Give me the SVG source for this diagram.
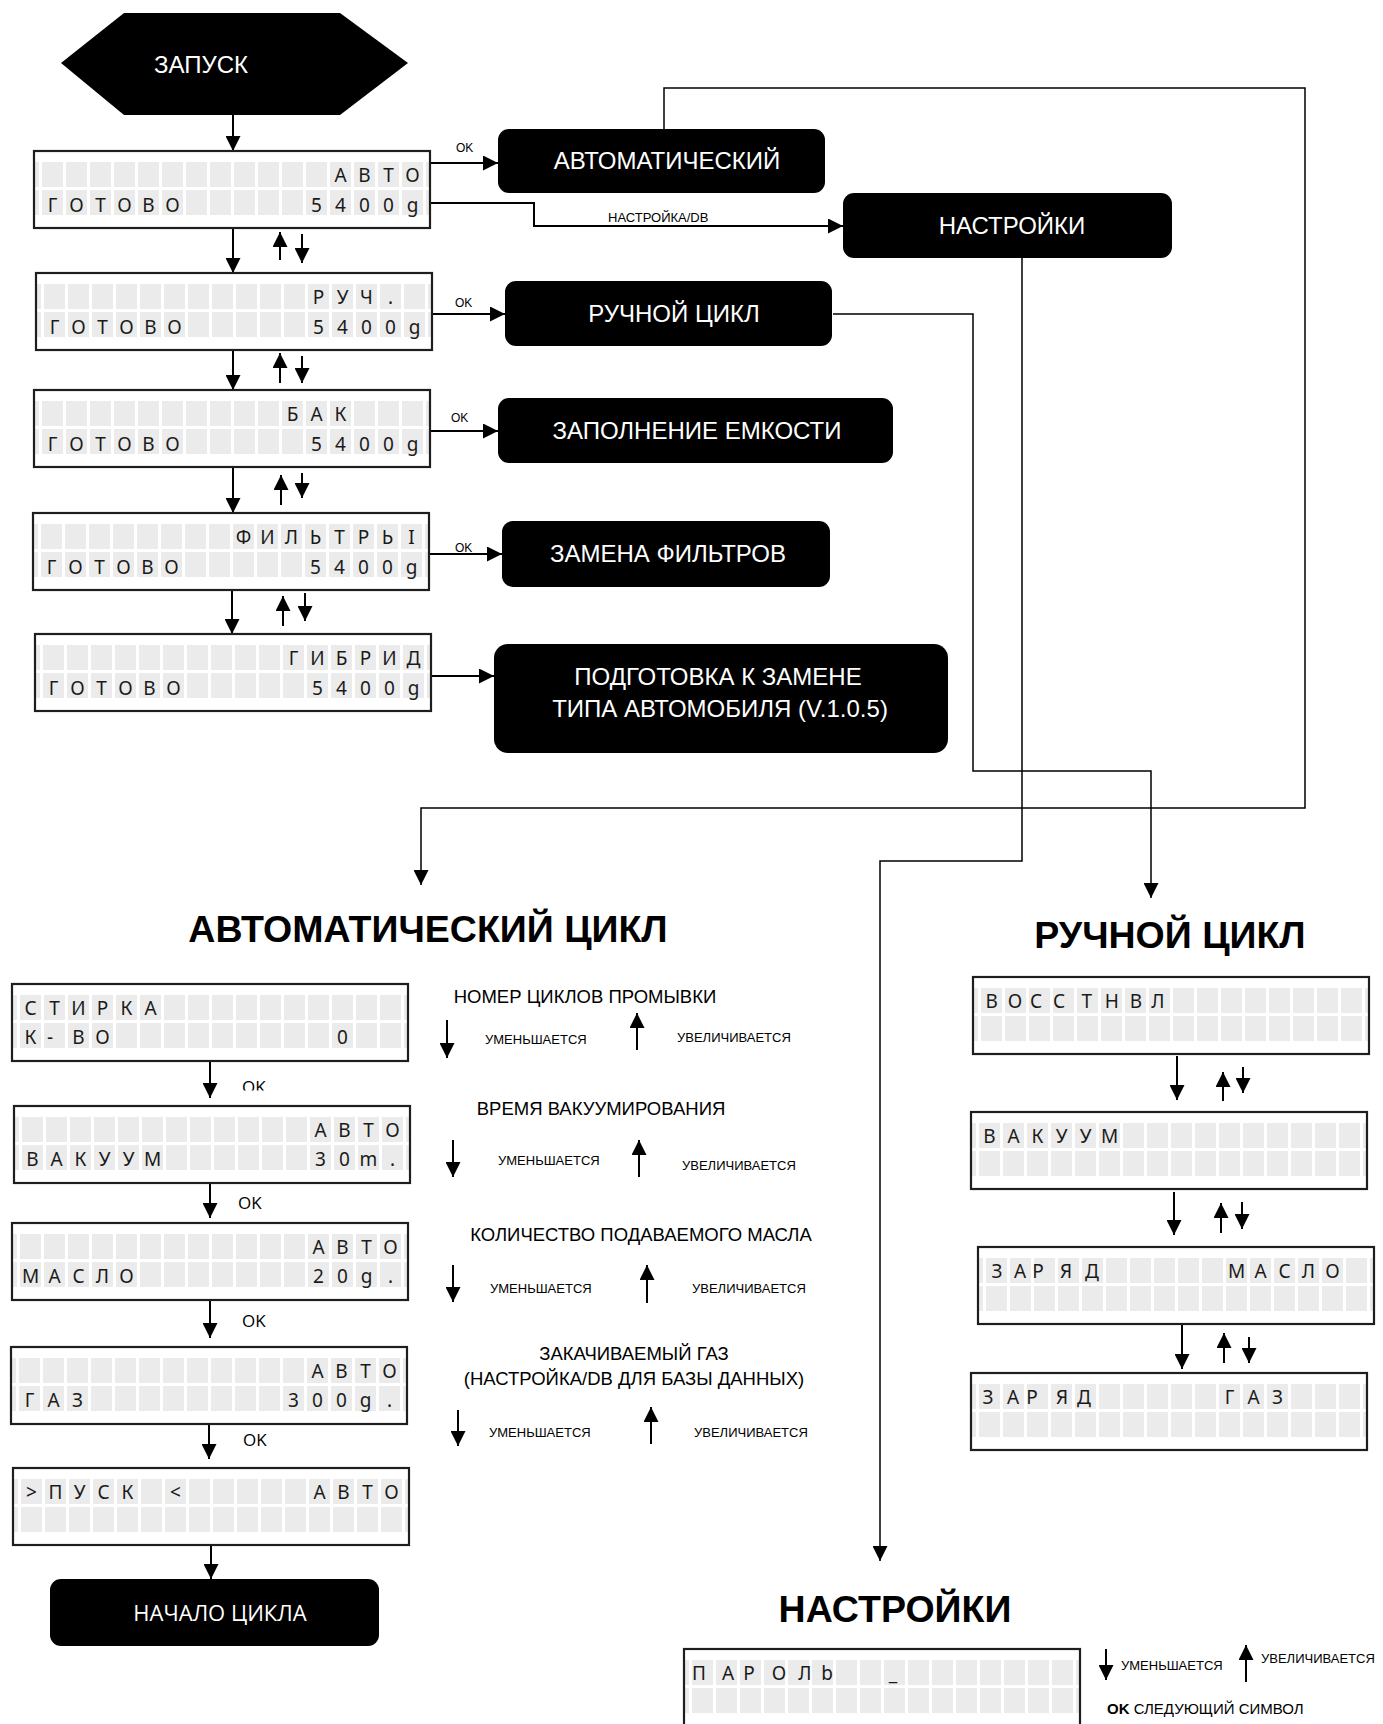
<svg xmlns="http://www.w3.org/2000/svg" xmlns:xlink="http://www.w3.org/1999/xlink" width="1383" height="1724" viewBox="0 0 1383 1724">
<style>
.box{fill:#000}
.bt{font-family:"Liberation Sans",Arial,sans-serif;font-size:24px;fill:#fff;text-anchor:middle}
.lt{font-family:"Noto Sans","Open Sans",sans-serif;font-size:19px;fill:#1a1a1a;text-anchor:middle}
.c{fill:none;stroke:#000;stroke-width:2}
.t{fill:none;stroke:#000;stroke-width:1.5}
.sm{font-family:"Liberation Sans",Arial,sans-serif;font-size:12px;fill:#000}
.h{font-family:"Liberation Sans",Arial,sans-serif;font-size:18.5px;fill:#000;text-anchor:middle}
.s{font-family:"Liberation Sans",Arial,sans-serif;font-size:13px;fill:#000}
.ti{font-family:"Liberation Sans",Arial,sans-serif;font-size:37.5px;font-weight:bold;fill:#000;text-anchor:middle}
.ok{font-family:"Open Sans","Noto Sans",sans-serif;font-size:17px;fill:#000}
</style>
<defs>
<pattern id="cells" patternUnits="userSpaceOnUse" x="8" y="11" width="24" height="28">
<rect x="0" y="0" width="21" height="25" fill="#ebebeb"/>
</pattern>
<g id="lcdbg">
<rect x="0" y="0" width="396" height="77" fill="#fff"/>
<rect x="1" y="11" width="394" height="53" fill="url(#cells)"/>
<rect x="0" y="0" width="396" height="77" fill="none" stroke="#1e1e1e" stroke-width="2.2"/>
</g>
<marker id="ah" viewBox="0 0 15 15" markerWidth="15" markerHeight="15" refX="15" refY="7.5" orient="auto" markerUnits="userSpaceOnUse">
<path d="M0,0L15,7.5L0,15z" fill="#000"/>
</marker>
<clipPath id="okclip"><rect x="230" y="1070" width="60" height="20.5"/></clipPath>
</defs>
<rect x="0" y="0" width="1383" height="1724" fill="#fff"/>

<!-- connectors -->
<g id="connectors">
<path class="c" d="M233,115V151" marker-end="url(#ah)"/>
<path class="c" d="M233,226V273" marker-end="url(#ah)"/>
<path class="c" d="M233,349V390" marker-end="url(#ah)"/>
<path class="c" d="M233,466V513" marker-end="url(#ah)"/>
<path class="c" d="M232,589V634" marker-end="url(#ah)"/>
<path class="c" d="M280,260V232" marker-end="url(#ah)"/>
<path class="c" d="M302,234V263" marker-end="url(#ah)"/>
<path class="c" d="M280,383V353" marker-end="url(#ah)"/>
<path class="c" d="M302,356V383" marker-end="url(#ah)"/>
<path class="c" d="M281,505V475" marker-end="url(#ah)"/>
<path class="c" d="M302,473V498" marker-end="url(#ah)"/>
<path class="c" d="M283,626V596" marker-end="url(#ah)"/>
<path class="c" d="M305,593V621" marker-end="url(#ah)"/>
<path class="c" d="M430,163H498" marker-end="url(#ah)"/>
<path class="c" d="M430,203H534V226H843" marker-end="url(#ah)"/>
<path class="c" d="M432,314H505" marker-end="url(#ah)"/>
<path class="c" d="M430,431H498" marker-end="url(#ah)"/>
<path class="c" d="M429,554H502" marker-end="url(#ah)"/>
<path class="c" d="M431,676H494" marker-end="url(#ah)"/>
<path class="t" d="M664,129V88H1305V808H421V885" marker-end="url(#ah)"/>
<path class="t" d="M1022,258V861H880V1561" marker-end="url(#ah)"/>
<path class="t" d="M833,314H973V771H1151V898" marker-end="url(#ah)"/>
<path class="c" d="M210,1053V1098" marker-end="url(#ah)"/>
<path class="c" d="M210,1183V1218" marker-end="url(#ah)"/>
<path class="c" d="M210,1300V1338" marker-end="url(#ah)"/>
<path class="c" d="M209,1423V1459" marker-end="url(#ah)"/>
<path class="c" d="M211,1536V1579" marker-end="url(#ah)"/>
<path class="c" d="M1177,1056V1100" marker-end="url(#ah)"/>
<path class="c" d="M1223,1101V1072" marker-end="url(#ah)"/>
<path class="c" d="M1243,1067V1093" marker-end="url(#ah)"/>
<path class="c" d="M1174,1192V1235" marker-end="url(#ah)"/>
<path class="c" d="M1221,1233V1203" marker-end="url(#ah)"/>
<path class="c" d="M1242,1202V1229" marker-end="url(#ah)"/>
<path class="c" d="M1182,1325V1369" marker-end="url(#ah)"/>
<path class="c" d="M1224,1363V1333" marker-end="url(#ah)"/>
<path class="c" d="M1249,1337V1363" marker-end="url(#ah)"/>
<path class="c" d="M447,1020V1058" marker-end="url(#ah)"/>
<path class="c" d="M637,1050V1013" marker-end="url(#ah)"/>
<path class="c" d="M453,1140V1177" marker-end="url(#ah)"/>
<path class="c" d="M639,1177V1140" marker-end="url(#ah)"/>
<path class="c" d="M453,1265V1302" marker-end="url(#ah)"/>
<path class="c" d="M647,1303V1265" marker-end="url(#ah)"/>
<path class="c" d="M458,1410V1446" marker-end="url(#ah)"/>
<path class="c" d="M651,1444V1407" marker-end="url(#ah)"/>
<path class="c" d="M1106,1649V1680" marker-end="url(#ah)"/>
<path class="c" d="M1246,1682V1645" marker-end="url(#ah)"/>
</g>

<!-- labels -->
<g id="labels">
<text class="sm" x="456" y="152">OK</text>
<text class="sm" x="455" y="307">OK</text>
<text class="sm" x="451" y="422">OK</text>
<text class="sm" x="455" y="552">OK</text>
<text class="sm" x="608" y="222" style="font-size:13px">НАСТРОЙКА/DB</text>
<text class="ok" x="242" y="1093" clip-path="url(#okclip)">OK</text>
<text class="ok" x="238" y="1209">OK</text>
<text class="ok" x="242" y="1327">OK</text>
<text class="ok" x="243" y="1446">OK</text>
<text class="ti" x="428" y="942">АВТОМАТИЧЕСКИЙ ЦИКЛ</text>
<text class="ti" x="1170" y="948">РУЧНОЙ ЦИКЛ</text>
<text class="ti" x="895" y="1622">НАСТРОЙКИ</text>
<text class="h" x="585" y="1003">НОМЕР ЦИКЛОВ ПРОМЫВКИ</text>
<text class="s" x="485" y="1044">УМЕНЬШАЕТСЯ</text>
<text class="s" x="677" y="1042">УВЕЛИЧИВАЕТСЯ</text>
<text class="h" x="601" y="1115">ВРЕМЯ ВАКУУМИРОВАНИЯ</text>
<text class="s" x="498" y="1165">УМЕНЬШАЕТСЯ</text>
<text class="s" x="682" y="1170">УВЕЛИЧИВАЕТСЯ</text>
<text class="h" x="641" y="1241">КОЛИЧЕСТВО ПОДАВАЕМОГО МАСЛА</text>
<text class="s" x="490" y="1293">УМЕНЬШАЕТСЯ</text>
<text class="s" x="692" y="1293">УВЕЛИЧИВАЕТСЯ</text>
<text class="h" x="634" y="1360">ЗАКАЧИВАЕМЫЙ ГАЗ</text>
<text class="h" x="634" y="1385">(НАСТРОЙКА/DB ДЛЯ БАЗЫ ДАННЫХ)</text>
<text class="s" x="489" y="1437">УМЕНЬШАЕТСЯ</text>
<text class="s" x="694" y="1437">УВЕЛИЧИВАЕТСЯ</text>
<text class="s" x="1121" y="1670">УМЕНЬШАЕТСЯ</text>
<text class="s" x="1261" y="1663">УВЕЛИЧИВАЕТСЯ</text>
<text class="s" x="1107" y="1714" style="font-size:15px"><tspan font-weight="bold">OK</tspan> СЛЕДУЮЩИЙ СИМВОЛ</text>
</g>

<!-- action nodes -->
<g id="start"><path class="box" d="M61,63L124,13H340L408,63L340,115H124Z"/><text class="bt" x="201" y="73">ЗАПУСК</text></g>
<g id="n-avto"><rect class="box" x="498" y="129" width="327" height="64" rx="11"/><text class="bt" x="667" y="169">АВТОМАТИЧЕСКИЙ</text></g>
<g id="n-nastr"><rect class="box" x="843" y="193" width="329" height="65" rx="11"/><text class="bt" x="1012" y="234">НАСТРОЙКИ</text></g>
<g id="n-ruch"><rect class="box" x="505" y="281" width="327" height="65" rx="11"/><text class="bt" x="674" y="322">РУЧНОЙ ЦИКЛ</text></g>
<g id="n-zapoln"><rect class="box" x="498" y="398" width="395" height="65" rx="11"/><text class="bt" x="697" y="439">ЗАПОЛНЕНИЕ ЕМКОСТИ</text></g>
<g id="n-zamena"><rect class="box" x="502" y="521" width="328" height="66" rx="11"/><text class="bt" x="668" y="562">ЗАМЕНА ФИЛЬТРОВ</text></g>
<g id="n-podg"><rect class="box" x="494" y="644" width="454" height="109" rx="14"/><text class="bt" x="718" y="685">ПОДГОТОВКА К ЗАМЕНЕ</text><text class="bt" x="720" y="717">ТИПА АВТОМОБИЛЯ (V.1.0.5)</text></g>
<g id="n-nachalo"><rect class="box" x="50" y="1579" width="329" height="67" rx="11"/><text class="bt" x="220" y="1621" style="font-family:'Open Sans','Noto Sans',sans-serif;font-size:22px">НАЧАЛО ЦИКЛА</text></g>

<!-- LCD nodes -->
<g id="lcd-avto" transform="translate(34,151)"><use xlink:href="#lcdbg"/>
<text class="lt" x="306.5 330.5 354.5 378.5" y="31">АВТО</text>
<text class="lt" x="18.5 42.5 66.5 90.5 114.5 138.5" y="60.5">ГОТОВО</text>
<text class="lt" x="282.5 306.5 330.5 354.5 378.5" y="60.5">5400g</text></g>
<g id="lcd-ruch" transform="translate(36,273)"><use xlink:href="#lcdbg"/>
<text class="lt" x="282.5 306.5 330.5 354.5" y="31">РУЧ.</text>
<text class="lt" x="18.5 42.5 66.5 90.5 114.5 138.5" y="60.5">ГОТОВО</text>
<text class="lt" x="282.5 306.5 330.5 354.5 378.5" y="60.5">5400g</text></g>
<g id="lcd-bak" transform="translate(34,390)"><use xlink:href="#lcdbg"/>
<text class="lt" x="258.5 282.5 306.5" y="31">БАК</text>
<text class="lt" x="18.5 42.5 66.5 90.5 114.5 138.5" y="60.5">ГОТОВО</text>
<text class="lt" x="282.5 306.5 330.5 354.5 378.5" y="60.5">5400g</text></g>
<g id="lcd-filtry" transform="translate(33,513)"><use xlink:href="#lcdbg"/>
<text class="lt" x="210.5 234.5 258.5 282.5 306.5 330.5 354.5 378.5" y="31">ФИЛЬТРЬI</text>
<text class="lt" x="18.5 42.5 66.5 90.5 114.5 138.5" y="60.5">ГОТОВО</text>
<text class="lt" x="282.5 306.5 330.5 354.5 378.5" y="60.5">5400g</text></g>
<g id="lcd-gibrid" transform="translate(35,634)"><use xlink:href="#lcdbg"/>
<text class="lt" x="258.5 282.5 306.5 330.5 354.5 378.5" y="31">ГИБРИД</text>
<text class="lt" x="18.5 42.5 66.5 90.5 114.5 138.5" y="60.5">ГОТОВО</text>
<text class="lt" x="282.5 306.5 330.5 354.5 378.5" y="60.5">5400g</text></g>

<g id="lcd-stirka" transform="translate(12,984)"><use xlink:href="#lcdbg"/>
<text class="lt" x="18.5 42.5 66.5 90.5 114.5 138.5" y="31">СТИРКА</text>
<text class="lt" x="18.5 38 66.5 90.5" y="60">К-ВО</text>
<text class="lt" x="330.5" y="60">0</text></g>
<g id="lcd-vakuum" transform="translate(14,1106)"><use xlink:href="#lcdbg"/>
<text class="lt" x="306.5 330.5 354.5 378.5" y="31">АВТО</text>
<text class="lt" x="18.5 42.5 66.5 90.5 114.5 138.5" y="60">ВАКУУМ</text>
<text class="lt" x="306.5 330.5 354.5 378.5" y="60">30m.</text></g>
<g id="lcd-maslo" transform="translate(12,1223)"><use xlink:href="#lcdbg"/>
<text class="lt" x="306.5 330.5 354.5 378.5" y="31">АВТО</text>
<text class="lt" x="18.5 42.5 66.5 90.5 114.5" y="60">МАСЛО</text>
<text class="lt" x="306.5 330.5 354.5 378.5" y="60">20g.</text></g>
<g id="lcd-gaz" transform="translate(11,1347)"><use xlink:href="#lcdbg"/>
<text class="lt" x="306.5 330.5 354.5 378.5" y="31">АВТО</text>
<text class="lt" x="18.5 42.5 66.5" y="60">ГАЗ</text>
<text class="lt" x="282.5 306.5 330.5 354.5 378.5" y="60">300g.</text></g>
<g id="lcd-pusk" transform="translate(13,1468)"><use xlink:href="#lcdbg"/>
<text class="lt" x="18.5 42.5 66.5 90.5 114.5" y="31">&gt;ПУСК</text>
<text class="lt" x="162.5" y="31">&lt;</text>
<text class="lt" x="306.5 330.5 354.5 378.5" y="31">АВТО</text></g>

<g id="lcd-vosst" transform="translate(973,977)"><use xlink:href="#lcdbg"/>
<text class="lt" x="18.7 42 63 86 113.7 138.7 163 185" y="31">ВОССТНВЛ</text></g>
<g id="lcd-vakuum2" transform="translate(971,1112)"><use xlink:href="#lcdbg"/>
<text class="lt" x="18.5 42.5 66.5 90.5 114.5 138.5" y="31">ВАКУУМ</text></g>
<g id="lcd-zaryad-maslo" transform="translate(978,1247)"><use xlink:href="#lcdbg"/>
<text class="lt" x="19 42 60 88 114" y="31">ЗАРЯД</text>
<text class="lt" x="258.5 282.5 306.5 330.5 354.5" y="31">МАСЛО</text></g>
<g id="lcd-zaryad-gaz" transform="translate(971,1373)"><use xlink:href="#lcdbg"/>
<text class="lt" x="17 42 61 91 113" y="31">ЗАРЯД</text>
<text class="lt" x="258.5 282.5 306.5" y="31">ГАЗ</text></g>
<g id="lcd-parol" transform="translate(684,1649)"><use xlink:href="#lcdbg"/>
<text class="lt" x="15 44 65 95 121 143" y="31">ПАРОЛb</text>
<text class="lt" x="209" y="31">_</text></g>
</svg>
